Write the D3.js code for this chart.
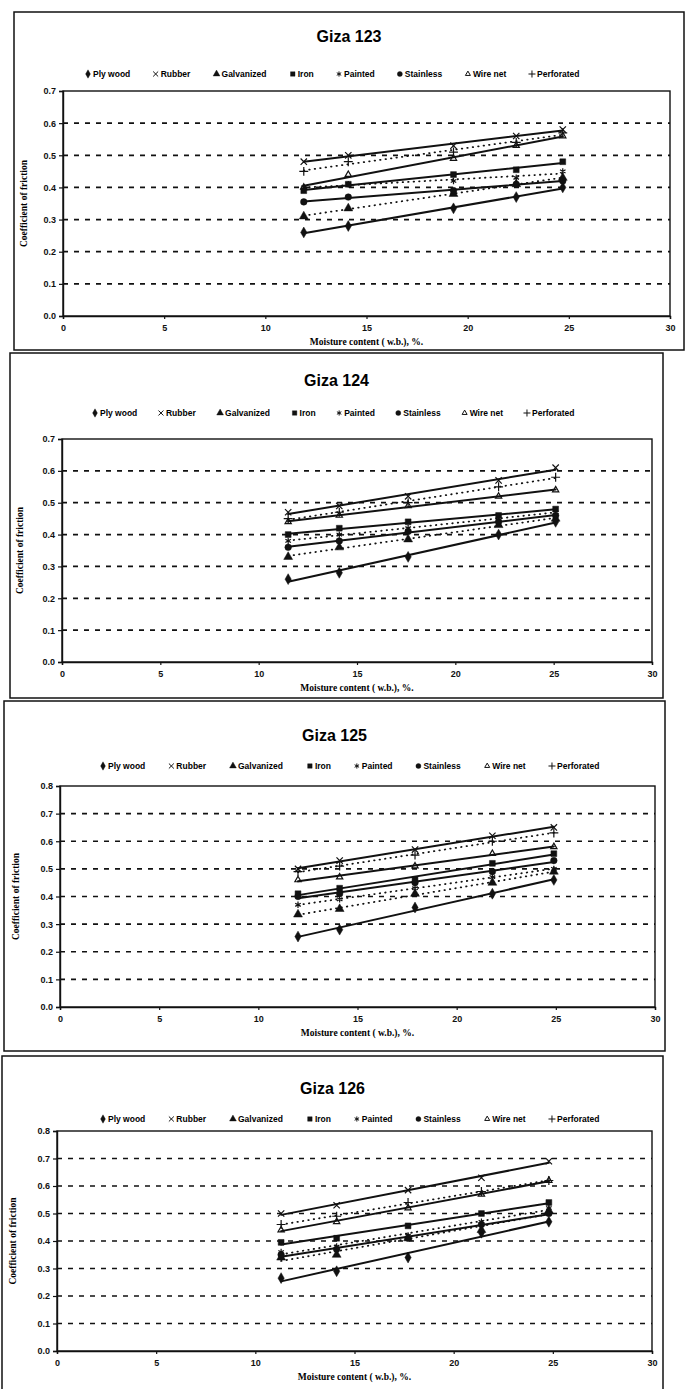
<!DOCTYPE html>
<html>
<head>
<meta charset="utf-8">
<script src="https://cdn.jsdelivr.net/npm/d3@7"></script>
<style>
body { margin: 0; background: #fff; }
svg { display: block; }
</style>
</head>
<body>
<script>
// series names, one per surface
const seriesNames = ["Ply wood", "Rubber", "Galvanized", "Iron", "Painted", "Stainless", "Wire net", "Perforated"];
const panelTitles = ["Giza 123", "Giza 124", "Giza 125", "Giza 126"];
const xTicks = [0, 5, 10, 15, 20, 25, 30];

// moisture content (w.b.), % for each variety
const moisture123 = [11.9, 14.1, 19.3, 22.4, 24.7];
const moisture124 = [11.5, 14.1, 17.6, 22.2, 25.1];
const moisture125 = [12.0, 14.1, 17.9, 21.8, 24.9];
const moisture126 = [11.3, 14.1, 17.7, 21.4, 24.8];

// coefficient of friction, rows in seriesNames order
const friction123 = [
    [0.26, 0.28, 0.335, 0.37, 0.40],
    [0.48, 0.50, 0.53, 0.56, 0.58],
    [0.31, 0.335, 0.38, 0.41, 0.43],
    [0.39, 0.41, 0.44, 0.455, 0.48],
    [0.40, 0.41, 0.42, 0.43, 0.45],
    [0.355, 0.37, 0.39, 0.41, 0.42],
    [0.40, 0.44, 0.49, 0.53, 0.56],
    [0.45, 0.48, 0.51, 0.54, 0.57]
];
const friction124 = [
    [0.26, 0.28, 0.33, 0.40, 0.44],
    [0.47, 0.49, 0.52, 0.57, 0.61],
    [0.33, 0.36, 0.385, 0.43, 0.45],
    [0.40, 0.42, 0.44, 0.46, 0.48],
    [0.38, 0.40, 0.42, 0.45, 0.47],
    [0.36, 0.38, 0.41, 0.44, 0.46],
    [0.44, 0.46, 0.49, 0.52, 0.54],
    [0.45, 0.47, 0.50, 0.55, 0.58]
];
const friction125 = [
    [0.255, 0.28, 0.36, 0.41, 0.46],
    [0.50, 0.53, 0.57, 0.62, 0.65],
    [0.335, 0.355, 0.41, 0.45, 0.49],
    [0.41, 0.43, 0.46, 0.52, 0.555],
    [0.37, 0.39, 0.43, 0.47, 0.50],
    [0.40, 0.41, 0.45, 0.49, 0.53],
    [0.46, 0.47, 0.51, 0.555, 0.58],
    [0.49, 0.51, 0.55, 0.60, 0.63]
];
const friction126 = [
    [0.265, 0.29, 0.34, 0.43, 0.47],
    [0.50, 0.53, 0.585, 0.63, 0.69],
    [0.34, 0.35, 0.41, 0.44, 0.51],
    [0.395, 0.41, 0.455, 0.50, 0.54],
    [0.36, 0.38, 0.42, 0.47, 0.52],
    [0.35, 0.37, 0.41, 0.46, 0.50],
    [0.44, 0.47, 0.52, 0.57, 0.62],
    [0.46, 0.49, 0.54, 0.58, 0.62]
];

const moistureSets = [moisture123, moisture124, moisture125, moisture126];
const frictionSets = [friction123, friction124, friction125, friction126];
const yMaxes = [0.7, 0.7, 0.8, 0.8];

// marker and line look per series
const symbols = [d3.symbolDiamond, d3.symbolTimes, d3.symbolTriangle, d3.symbolSquare,
                 d3.symbolAsterisk, d3.symbolCircle, d3.symbolTriangle2, d3.symbolPlus];
const filled = [true, false, true, true, false, true, false, false];
const dotted = [false, false, true, false, true, false, false, true];

// page layout of the four scanned panels
const layout = [
    {frame: [14, 12, 684, 350], plot: [63, 91, 670, 316], titleY: 42, legend: [85, 580, 74], yTitleX: 27},
    {frame: [10, 353, 663, 698], plot: [62, 439, 652, 662], titleY: 386, legend: [92, 575, 413], yTitleX: 23},
    {frame: [4, 701, 665, 1051], plot: [60, 786, 655, 1007], titleY: 741, legend: [100, 600, 766], yTitleX: 19},
    {frame: [2, 1056, 663, 1400], plot: [57, 1131, 652, 1351], titleY: 1094, legend: [100, 600, 1119], yTitleX: 16}
];

function init() {
    var svg = d3.select("body")
        .append("svg")
        .attr("width", 686)
        .attr("height", 1389);

    layout.forEach(function(L, p) {
        var g = svg.append("g");
        var xs = moistureSets[p];
        var rows = frictionSets[p];

        // outer frame
        g.append("rect")
            .attr("x", L.frame[0]).attr("y", L.frame[1])
            .attr("width", L.frame[2] - L.frame[0])
            .attr("height", L.frame[3] - L.frame[1])
            .attr("fill", "none")
            .attr("stroke", "#111")
            .attr("stroke-width", 1.5);

        g.append("text")
            .attr("x", (L.frame[0] + L.frame[2]) / 2)
            .attr("y", L.titleY)
            .attr("text-anchor", "middle")
            .style("font", "bold 16px 'Liberation Sans', Arial, sans-serif")
            .text(panelTitles[p]);

        var xScale = d3.scaleLinear().domain([0, 30]).range([L.plot[0], L.plot[2]]);
        var yScale = d3.scaleLinear().domain([0, yMaxes[p]]).range([L.plot[3], L.plot[1]]);

        // dashed gridlines
        var yTicks = d3.range(0, Math.round(yMaxes[p] * 10) + 1).map(function(i) { return i / 10; });
        g.selectAll(".grid")
            .data(yTicks.slice(1, -1))
            .enter()
            .append("line")
            .attr("x1", L.plot[0]).attr("x2", L.plot[2])
            .attr("y1", function(d) { return yScale(d); })
            .attr("y2", function(d) { return yScale(d); })
            .attr("stroke", "#111")
            .attr("stroke-width", 1.7)
            .attr("stroke-dasharray", "5,6");

        // plot area border
        g.append("rect")
            .attr("x", L.plot[0]).attr("y", L.plot[1])
            .attr("width", L.plot[2] - L.plot[0])
            .attr("height", L.plot[3] - L.plot[1])
            .attr("fill", "none")
            .attr("stroke", "#111")
            .attr("stroke-width", 1.4);

        var yAxis = d3.axisLeft(yScale)
            .tickValues(yTicks)
            .tickFormat(d3.format(".1f"))
            .tickSize(4);
        var xAxis = d3.axisBottom(xScale)
            .tickValues(xTicks)
            .tickSize(3)
            .tickPadding(6);

        var ya = g.append("g")
            .attr("transform", "translate(" + L.plot[0] + ",0)")
            .call(yAxis);
        var xa = g.append("g")
            .attr("transform", "translate(0," + L.plot[3] + ")")
            .call(xAxis);
        [ya, xa].forEach(function(a) {
            a.select(".domain").attr("stroke", "#111").attr("stroke-width", 1.4);
            a.selectAll(".tick line").attr("stroke", "#111").attr("stroke-width", 1.2);
            a.selectAll(".tick text")
                .attr("fill", "#111")
                .style("font", "bold 9px 'Liberation Sans', Arial, sans-serif");
        });

        g.append("text")
            .attr("x", (L.plot[0] + L.plot[2]) / 2)
            .attr("y", L.plot[3] + 29)
            .attr("text-anchor", "middle")
            .style("font", "bold 9.5px 'Liberation Serif', 'Times New Roman', serif")
            .text("Moisture content ( w.b.), %.");

        g.append("text")
            .attr("transform", "translate(" + L.yTitleX + "," + ((L.plot[1] + L.plot[3]) / 2) + ") rotate(-90)")
            .attr("text-anchor", "middle")
            .style("font", "bold 9.5px 'Liberation Serif', 'Times New Roman', serif")
            .text("Coefficient of friction");

        // linear trendlines over each series' data range
        rows.forEach(function(vals, s) {
            var mx = d3.mean(xs), my = d3.mean(vals);
            var sxy = d3.sum(xs, function(x, i) { return (x - mx) * (vals[i] - my); });
            var sxx = d3.sum(xs, function(x) { return (x - mx) * (x - mx); });
            var slope = sxy / sxx, icpt = my - slope * mx;
            var ends = d3.extent(xs);
            g.append("line")
                .attr("x1", xScale(ends[0])).attr("y1", yScale(icpt + slope * ends[0]))
                .attr("x2", xScale(ends[1])).attr("y2", yScale(icpt + slope * ends[1]))
                .attr("stroke", "#111")
                .attr("stroke-width", dotted[s] ? 1.8 : 2)
                .attr("stroke-linecap", "round")
                .attr("stroke-dasharray", dotted[s] ? "0.5,5" : null);
        });

        rows.forEach(function(vals, s) {
            var sym = d3.symbol().type(symbols[s]).size(filled[s] ? 34 : 28);
            g.selectAll(".m" + s)
                .data(vals)
                .enter()
                .append("path")
                .attr("d", sym)
                .attr("transform", function(d, i) {
                    return "translate(" + xScale(xs[i]) + "," + yScale(d) + ")";
                })
                .attr("fill", filled[s] ? "#111" : "none")
                .attr("stroke", "#111")
                .attr("stroke-width", filled[s] ? 0.5 : 1.2);
        });

        // legend, spread across the row like the print
        var leg = g.append("g");
        var items = leg.selectAll(".item")
            .data(seriesNames)
            .enter()
            .append("g");
        items.append("path")
            .attr("d", function(d, s) { return d3.symbol().type(symbols[s]).size(filled[s] ? 20 : 18)(); })
            .attr("fill", function(d, s) { return filled[s] ? "#111" : "none"; })
            .attr("stroke", "#111")
            .attr("stroke-width", function(d, s) { return filled[s] ? 0.4 : 1; });
        items.append("text")
            .attr("x", 5)
            .attr("y", 3)
            .style("font", "bold 8.5px 'Liberation Sans', Arial, sans-serif")
            .text(function(d) { return d; });
        var widths = [];
        items.each(function() { widths.push(this.getBBox().width); });
        var total = d3.sum(widths);
        var gap = (L.legend[1] - L.legend[0] - total) / (seriesNames.length - 1);
        var pos = L.legend[0];
        items.attr("transform", function(d, i) {
            var t = "translate(" + (pos + 3) + "," + L.legend[2] + ")";
            pos += widths[i] + gap;
            return t;
        });
    });
}
window.onload = init;
</script>
</body>
</html>
